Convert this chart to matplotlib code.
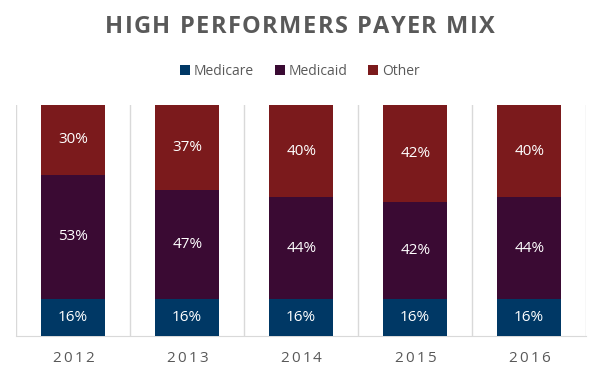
import numpy as np
import matplotlib.pyplot as plt
from matplotlib.transforms import offset_copy, blended_transform_factory

years = ["2012", "2013", "2014", "2015", "2016"]
medicare = [16, 16, 16, 16, 16]
medicaid = [53, 47, 44, 42, 44]
other = [30, 37, 40, 42, 40]

series = [("Medicare", medicare, "#003865"),
          ("Medicaid", medicaid, "#3a0a33"),
          ("Other", other, "#7b1a1c")]

plt.rcParams['font.family'] = ['Open Sans', 'DejaVu Sans']

fig = plt.figure(figsize=(6, 3.79), dpi=100)
renderer = fig.canvas.get_renderer()


def tracked_text(x, y, s, transform, track, **kw):
    # letter spacing: place each character separately, track in points
    widths = []
    for ch in s:
        if ch == " ":
            widths.append(kw.get("fontsize", 10) * 0.28)
            continue
        t = fig.text(0, 0, ch, **kw)
        widths.append(t.get_window_extent(renderer).width * 72 / fig.dpi)
        t.remove()
    total = sum(widths) + track * (len(s) - 1)
    pos = -total / 2
    for ch, w in zip(s, widths):
        tr = offset_copy(transform, fig=fig, x=pos, y=0, units="points")
        fig.text(x, y, ch, transform=tr, ha="left", va="center", **kw)
        pos += w + track


ax = fig.add_axes([0.027, 0.1135, 0.95, 0.61])

x = np.arange(len(years))
totals = np.array(medicare) + np.array(medicaid) + np.array(other)
bottom = np.zeros(len(years))
for name, vals, color in series:
    share = np.array(vals) / totals * 100
    ax.bar(x, share, 0.56, bottom=bottom, color=color, label=name, zorder=3)
    for xi, b, s, v in zip(x, bottom, share, vals):
        ax.text(xi, b + s / 2, f"{v}%", ha="center", va="center",
                color="white", fontsize=11, zorder=4)
    bottom += share

ax.set_xlim(-0.5, len(years) - 0.5)
ax.set_ylim(0, 100)
ax.set_xticks(x)
ax.set_xticklabels([])
ax.set_xticks(np.arange(-0.5, len(years)), minor=True)
ax.tick_params(axis="x", which="both", length=0)
ax.set_yticks([])
ax.grid(axis="x", which="minor", color="#d9d9d9", linewidth=1, zorder=0)
for side in ["top", "right", "left"]:
    ax.spines[side].set_visible(False)
ax.spines["bottom"].set_color("#d9d9d9")

# year labels with letter spacing
btrans = blended_transform_factory(ax.transData, fig.transFigure)
for xi, yr in zip(x, years):
    tracked_text(xi, 0.055, yr, btrans, 1.5, fontsize=11, color="#595959")

tracked_text(0.5, 0.928, "HIGH PERFORMERS PAYER MIX", fig.transFigure, 1.0,
             fontsize=17, fontweight="bold", color="#595959")
fig.legend(loc="center", bbox_to_anchor=(0.5, 0.812), ncol=3, frameon=False,
           fontsize=10, handlelength=0.7, handleheight=0.7, handletextpad=0.3,
           columnspacing=1.5, labelcolor="#595959")

fig.savefig("out.png", dpi=100)
